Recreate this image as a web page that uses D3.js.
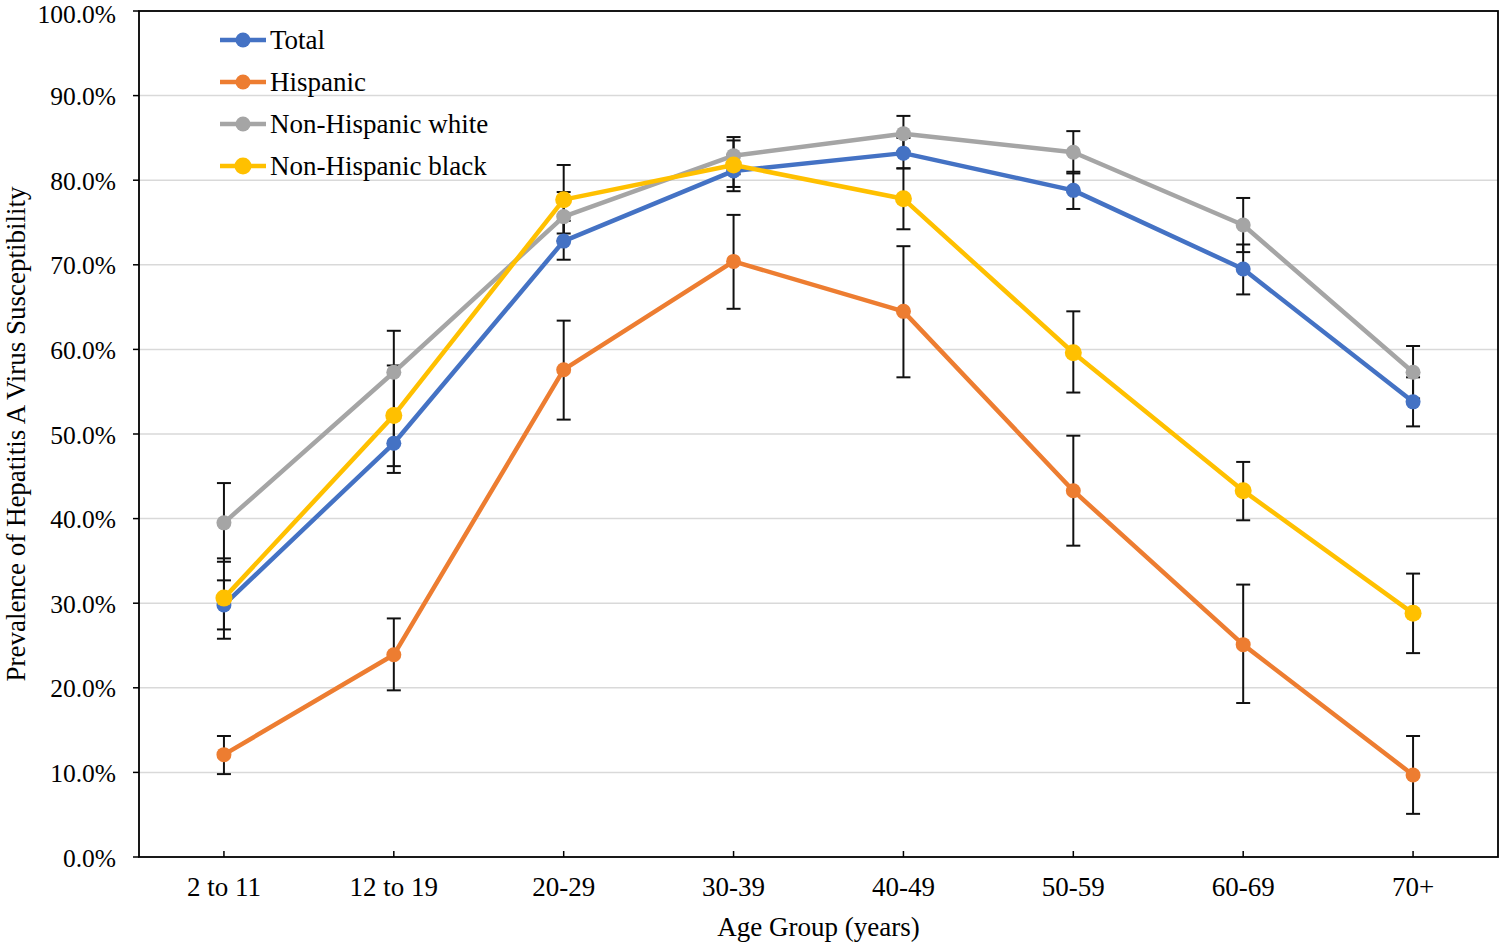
<!DOCTYPE html>
<html>
<head>
<meta charset="utf-8">
<script src="https://cdn.jsdelivr.net/npm/d3@7"></script>
<style>
  html, body { margin: 0; padding: 0; background: #fff; }
  svg { display: block; }
  text { font-family: "Liberation Serif", "Times New Roman", serif; fill: #000; }
</style>
</head>
<body>
<svg id="chart" width="1500" height="942"></svg>
<script>
const categories = ["2 to 11", "12 to 19", "20-29", "30-39", "40-49", "50-59", "60-69", "70+"];
const seriesNames = ["Total", "Hispanic", "Non-Hispanic white", "Non-Hispanic black"];
const seriesColors = ["#4472C4", "#ED7D31", "#A5A5A5", "#FFC000"];

const totalValues = [29.8, 48.9, 72.8, 81.1, 83.2, 78.8, 69.5, 53.8];
const totalUpper  = [32.7, 52.4, 75.2, 83.0, 85.0, 81.0, 72.4, 56.7];
const totalLower  = [26.9, 45.4, 70.6, 79.2, 81.4, 76.6, 66.5, 50.9];

const hispanicValues = [12.1, 23.9, 57.6, 70.4, 64.5, 43.3, 25.1, 9.7];
const hispanicUpper  = [14.3, 28.2, 63.4, 75.9, 72.2, 49.8, 32.2, 14.3];
const hispanicLower  = [9.8, 19.7, 51.7, 64.8, 56.7, 36.8, 18.2, 5.1];

const whiteValues = [39.5, 57.3, 75.7, 82.9, 85.5, 83.3, 74.7, 57.3];
const whiteUpper  = [44.2, 62.2, 78.6, 85.1, 87.6, 85.8, 77.9, 60.4];
const whiteLower  = [34.9, 52.4, 72.8, 80.7, 83.4, 80.8, 71.5, 54.2];

const blackValues = [30.6, 52.2, 77.7, 81.8, 77.8, 59.6, 43.3, 28.8];
const blackUpper  = [35.3, 58.1, 81.8, 84.7, 81.4, 64.5, 46.7, 33.5];
const blackLower  = [25.8, 46.2, 73.7, 78.7, 74.2, 54.9, 39.8, 24.1];

const yTicks = [0, 10, 20, 30, 40, 50, 60, 70, 80, 90, 100];

(function () {
const series = [
  { name: seriesNames[0], color: seriesColors[0], values: totalValues, upper: totalUpper, lower: totalLower, r: 7.5 },
  { name: seriesNames[1], color: seriesColors[1], values: hispanicValues, upper: hispanicUpper, lower: hispanicLower, r: 7.5 },
  { name: seriesNames[2], color: seriesColors[2], values: whiteValues, upper: whiteUpper, lower: whiteLower, r: 7.5 },
  { name: seriesNames[3], color: seriesColors[3], values: blackValues, upper: blackUpper, lower: blackLower, r: 8.5 }
];

const svg = d3.select("#chart");
const pLeft = 139, pRight = 1498, pTop = 11, pBottom = 857;

const x = d3.scaleBand().domain(categories).range([pLeft, pRight]).padding(0);
const y = d3.scaleLinear().domain([0, 100]).range([pBottom, pTop]);
const cx = c => x(c) + x.bandwidth() / 2;

// gridlines
svg.append("g").selectAll("line").data(yTicks.filter(t => t > 0)).join("line")
  .attr("x1", pLeft).attr("x2", pRight)
  .attr("y1", d => y(d)).attr("y2", d => y(d))
  .attr("stroke", "#d9d9d9").attr("stroke-width", 1.5);

// y axis
const yAxis = svg.append("g").attr("transform", `translate(${pLeft},0)`)
  .call(d3.axisLeft(y).tickValues(yTicks).tickSize(0).tickPadding(23).tickFormat(d => d.toFixed(1) + "%"));
yAxis.select(".domain").remove();
yAxis.selectAll("text").style("font-size", "25.5px").style("font-family", "Liberation Serif")
  .attr("dy", d => d === 100 ? "0.45em" : "0.36em");
svg.append("g").selectAll("line").data(yTicks).join("line")
  .attr("x1", pLeft - 6).attr("x2", pLeft)
  .attr("y1", d => y(d)).attr("y2", d => y(d))
  .attr("stroke", "#000").attr("stroke-width", 1.5);

// x axis
const xAxis = svg.append("g").attr("transform", `translate(0,${pBottom})`)
  .call(d3.axisBottom(x).tickSize(0).tickPadding(20));
xAxis.select(".domain").remove();
xAxis.selectAll("text").style("font-size", "27px").style("font-family", "Liberation Serif");
svg.append("g").selectAll("line").data(categories).join("line")
  .attr("x1", d => cx(d)).attr("x2", d => cx(d))
  .attr("y1", pBottom - 6).attr("y2", pBottom)
  .attr("stroke", "#000").attr("stroke-width", 1.5);

// frame
svg.append("rect").attr("x", pLeft).attr("y", pTop).attr("width", pRight - pLeft).attr("height", pBottom - pTop)
  .attr("fill", "none").attr("stroke", "#000").attr("stroke-width", 1.8);

// error bars
series.forEach(s => {
  const g = svg.append("g");
  categories.forEach((c, i) => {
    const px = cx(c);
    g.append("line").attr("x1", px).attr("x2", px).attr("y1", y(s.upper[i])).attr("y2", y(s.lower[i]))
      .attr("stroke", "#111").attr("stroke-width", 2);
    [s.upper[i], s.lower[i]].forEach(v => {
      g.append("line").attr("x1", px - 7).attr("x2", px + 7).attr("y1", y(v)).attr("y2", y(v))
        .attr("stroke", "#111").attr("stroke-width", 2);
    });
  });
});

// lines and markers
const line = d3.line().x((d, i) => cx(categories[i])).y(d => y(d));
series.forEach(s => {
  svg.append("path").datum(s.values).attr("d", line)
    .attr("fill", "none").attr("stroke", s.color).attr("stroke-width", 4.5).attr("stroke-linejoin", "round");
  svg.append("g").selectAll("circle").data(s.values).join("circle")
    .attr("cx", (d, i) => cx(categories[i])).attr("cy", d => y(d)).attr("r", s.r)
    .attr("fill", s.color);
});

// legend
const legend = svg.append("g");
series.forEach((s, i) => {
  const ly = 40 + i * 42;
  legend.append("line").attr("x1", 220).attr("x2", 266).attr("y1", ly).attr("y2", ly)
    .attr("stroke", s.color).attr("stroke-width", 4.5);
  legend.append("circle").attr("cx", 243).attr("cy", ly).attr("r", s.r).attr("fill", s.color);
  legend.append("text").attr("x", 270).attr("y", ly + 9).style("font-size", "27px").text(s.name);
});

// axis titles
svg.append("text").attr("x", (pLeft + pRight) / 2).attr("y", 936).attr("text-anchor", "middle")
  .style("font-size", "27px").text("Age Group (years)");
svg.append("text").attr("transform", `translate(25,${(pTop + pBottom) / 2}) rotate(-90)`)
  .attr("text-anchor", "middle").style("font-size", "27px").text("Prevalence of Hepatitis A Virus Susceptibility");
})();
</script>
</body>
</html>
